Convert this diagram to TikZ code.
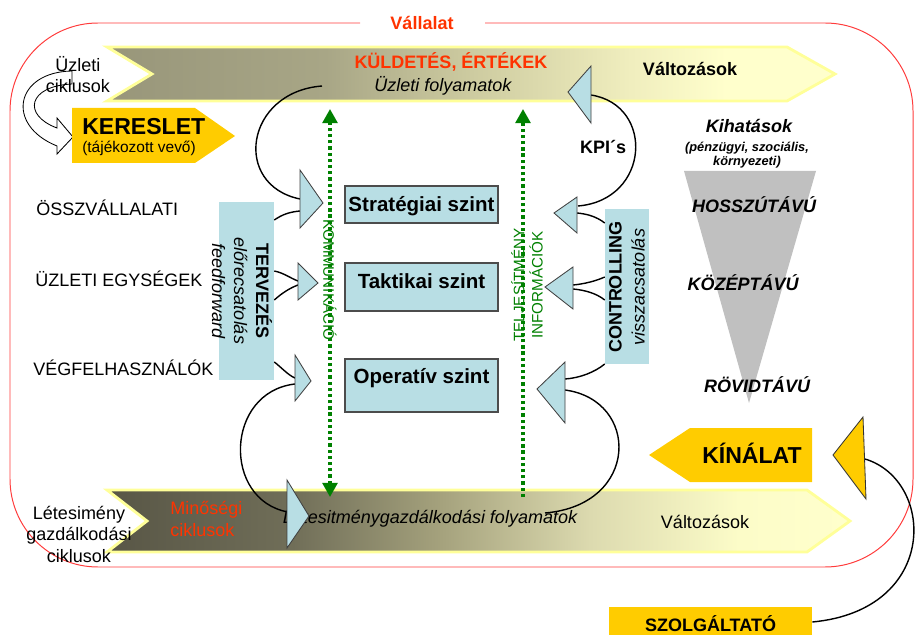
\documentclass[tikz,border=0pt]{standalone}
\usepackage{fontspec}
\setmainfont{Liberation Sans}
\usetikzlibrary{arrows.meta, calc}

\definecolor{lightblue}{RGB}{184,222,228}
\definecolor{gold}{RGB}{255,204,0}
\definecolor{vred}{RGB}{255,51,0}
\definecolor{framered}{RGB}{255,60,60}
\definecolor{darkgreen}{RGB}{0,128,0}
\definecolor{bandedge}{RGB}{255,255,153}
\definecolor{funnel}{RGB}{192,192,192}
\definecolor{topA}{RGB}{152,150,122}
\definecolor{topB}{RGB}{168,166,134}
\definecolor{topC}{RGB}{205,203,160}
\definecolor{topD}{RGB}{240,238,190}
\definecolor{topE}{RGB}{255,255,204}
\definecolor{lowA}{RGB}{88,86,70}
\definecolor{lowB}{RGB}{112,110,88}
\definecolor{lowC}{RGB}{165,162,125}
\definecolor{lowD}{RGB}{220,218,175}
\definecolor{lowE}{RGB}{252,252,200}

\pgfdeclarehorizontalshading{topband}{100bp}{color(0bp)=(topA); color(25bp)=(topA); color(40bp)=(topB); color(50bp)=(topC); color(61bp)=(topD); color(67.5bp)=(topE); color(100bp)=(topE)}
\pgfdeclarehorizontalshading{lowband}{100bp}{color(0bp)=(lowA); color(25bp)=(lowA); color(37.5bp)=(lowB); color(47.5bp)=(lowC); color(57.5bp)=(lowD); color(67.5bp)=(lowE); color(75bp)=(topE); color(100bp)=(topE)}

\newcommand{\normsize}{\fontsize{12.8}{15.6}\selectfont}

\begin{document}
\begin{tikzpicture}[x=0.025cm, y=-0.025cm, >={Triangle[width=10.5pt,length=10pt]},
    every node/.style={inner sep=0pt, font=\normsize},
    lvl/.style={draw=black!70, fill=lightblue, line width=0.8pt, minimum width=3.825cm},
    lvltxt/.style={font=\bfseries\fontsize{14.6}{17}\selectfont, anchor=base},
    bluebox/.style={fill=lightblue},
    tri/.style={draw=black!75, fill=lightblue, line width=0.6pt},
    loopline/.style={line width=1pt},
    info/.style={draw=darkgreen, line width=2.3pt, dash pattern=on 2.3pt off 2.1pt},
    infotxt/.style={text=darkgreen, font=\fontsize{10.8}{13}\selectfont},
    band/.style={draw=bandedge, line width=2pt},
    funneltxt/.style={font=\bfseries\itshape\normsize, anchor=base}]

    \useasboundingbox (0,0) rectangle (919,635);

    % Company frame
    \draw[framered, line width=0.7pt, rounded corners=2.2cm]
        (360,23) -- (10,23) -- (10,567) -- (913,567) -- (913,23) -- (485,23);
    \node[font=\bfseries\normsize, text=vred, anchor=base] (vallalat) at (422,30) {Vállalat};

    % Upper band: business processes
    \shadedraw[band, shading=topband]
        (107,47) -- (787,47) -- (835,74) -- (787,101) -- (107,101) -- (152,74) -- cycle;
    \node[font=\bfseries\normsize, text=vred, anchor=base] (kuldetes) at (451,69) {KÜLDETÉS, ÉRTÉKEK};
    \node[font=\itshape\normsize, anchor=base] (uzletfoly) at (443,92) {Üzleti folyamatok};
    \node[font=\bfseries\normsize, anchor=base] (valtozas) at (690,76) {Változások};

    % Lower band: facility processes
    \shadedraw[band, shading=lowband]
        (107,490) -- (807,490) -- (850,521) -- (807,552) -- (107,552) -- (147,521) -- cycle;
    \node[text=vred, anchor=base west, align=left] (minoseg) at (170,536) {Minőségi\\ciklusok};
    \node[font=\itshape\normsize, anchor=base] (letfoly) at (430,523) {Létesitménygazdálkodási folyamatok};
    \node[anchor=base] (valtozas2) at (705,528) {Változások};
    \node[anchor=base, align=center, font=\fontsize{12.8}{15}\selectfont] (letcikl) at (79,562)
        {Létesimény\\gazdálkodási\\ciklusok};

    % Demand side
    \node[anchor=base, align=center, font=\fontsize{12.8}{15.6}\selectfont] (uzcikl) at (78,93) {Üzleti\\ciklusok};
    \draw[line width=0.6pt] (72,71) .. controls (15,72) and (5,125) .. (57,146)
        -- (57,154) -- (73,137) -- (57,118) -- (57,128)
        .. controls (22,115) and (28,86) .. (72,84) -- cycle;
    \fill[gold] (72,108) -- (195,108) -- (235,136) -- (195,163) -- (72,163) -- cycle;
    \node[font=\bfseries\fontsize{16.4}{19}\selectfont, anchor=base west] (kereslet) at (82,135) {KERESLET};
    \node[font=\fontsize{11}{13}\selectfont, anchor=base west] (vevo) at (82,153) {(tájékozott vevő)};

    % Organisation levels
    \node[anchor=base west] (ossz) at (36,216) {ÖSSZVÁLLALATI};
    \node[anchor=base west] (uzegys) at (35,287) {ÜZLETI EGYSÉGEK};
    \node[anchor=base west] (vegf) at (33,375) {VÉGFELHASZNÁLÓK};

    % Planning and controlling
    \node[bluebox, minimum width=1.375cm, minimum height=4.45cm] (tervbox) at (246.5,291) {};
    \node[rotate=-90, align=center] (terv) at (242,291)
        {\textbf{TERVEZÉS}\\\textit{előrecsatolás}\\\textit{feedforward}};
    \node[bluebox, minimum width=1.1cm, minimum height=3.875cm] (ctrlbox) at (627,286.5) {};
    \node[rotate=90, align=center, font=\fontsize{12.8}{16.4}\selectfont] (ctrl) at (627,287)
        {\textbf{CONTROLLING}\\\textit{visszacsatolás}};

    % Level boxes
    \node[lvl, minimum height=0.925cm] (strat) at (421.5,204.5) {};
    \node[lvltxt] (strattxt) at (421.5,212) {Stratégiai szint};
    \node[lvl, minimum height=1.2cm] (takt) at (421.5,287) {};
    \node[lvltxt] (takttxt) at (421.5,289) {Taktikai szint};
    \node[lvl, minimum height=1.325cm] (oper) at (421.5,385.5) {};
    \node[lvltxt] (opertxt) at (421.5,384) {Operatív szint};

    % Communication and performance information
    \coordinate (komTop) at (330,109);
    \coordinate (komBot) at (330,497);
    \draw[info, <->] (komBot) -- (komTop);
    \node[infotxt, rotate=-90] (kom) at (330,280) {KOMMUNIKÁCIÓ};
    \coordinate (telTop) at (523,109);
    \coordinate (telBot) at (523,497);
    \draw[info, ->] (telBot) -- (telTop);
    \node[infotxt, rotate=90, align=center] (tel) at (527,285) {TELJESÍTMÉNY\\INFORMÁCIÓK};

    % Loops on the left
    \coordinate (busL) at (322,86);
    \coordinate (stratL) at (300,199);
    \coordinate (operL) at (295,384);
    \coordinate (facL) at (288,512);
    \draw[loopline] (busL) .. controls (245,92) and (232,185) .. (stratL);
    \draw[loopline] (operL) .. controls (225,392) and (222,500) .. (facL);
    \draw[loopline] (tervbox.east |- 0,220) .. controls (283,214) and (290,212) .. (300,211);
    \draw[loopline] (tervbox.east |- 0,271) .. controls (284,273) and (290,278) .. (298,281);
    \draw[loopline] (tervbox.east |- 0,300) .. controls (282,293) and (290,288) .. (298,285);
    \draw[loopline] (tervbox.east |- 0,362) .. controls (282,368) and (288,375) .. (295,378);

    % Loops on the right
    \coordinate (busR) at (591,95);
    \coordinate (stratR) at (578,206);
    \coordinate (operR) at (565,390);
    \coordinate (facR) at (545,513);
    \draw[loopline] (busR) .. controls (655,105) and (650,200) .. (stratR);
    \draw[loopline] (operR) .. controls (640,400) and (640,505) .. (facR);
    \draw[loopline] (ctrlbox.west |- 0,223) .. controls (597,217) and (588,214) .. (577,213);
    \draw[loopline] (ctrlbox.west |- 0,277) .. controls (596,281) and (584,284) .. (573,285);
    \draw[loopline] (ctrlbox.west |- 0,300) .. controls (596,293) and (584,290) .. (573,289);
    \draw[loopline] (ctrlbox.west |- 0,364) .. controls (595,372) and (580,378) .. (565,379);

    % Arrow heads pointing right
    \draw[tri] (300,170) -- (323,203) -- (300,228) -- cycle;
    \draw[tri] (298,263) -- (318,283) -- (298,300) -- cycle;
    \draw[tri] (295,355) -- (311,381) -- (295,401) -- cycle;
    \draw[tri] (287,480) -- (309,516) -- (287,548) -- cycle;

    % Arrow heads pointing left
    \draw[tri] (591,66) -- (568,92) -- (591,123) -- cycle;
    \draw[tri] (577,197) -- (554,213) -- (577,233) -- cycle;
    \draw[tri] (573,267) -- (545,287) -- (573,309) -- cycle;
    \draw[tri] (565,362) -- (537,389) -- (565,423) -- cycle;
    \node[font=\bfseries\normsize, anchor=base] (kpi) at (603,154) {KPI´s};

    % Impacts funnel
    \node[font=\bfseries\itshape\normsize, anchor=base] (kihat) at (749,133) {Kihatások};
    \node[font=\bfseries\itshape\fontsize{9.1}{10}\selectfont, anchor=base, align=center] (kihat2) at (747,166)
        {(pénzügyi, szociális,\\környezeti)};
    \fill[funnel] (684,171) -- (816,171) -- (749,403) -- cycle;
    \node[funneltxt] (hossz) at (754,213) {HOSSZÚTÁVÚ};
    \node[funneltxt] (kozep) at (743,291) {KÖZÉPTÁVÚ};
    \node[funneltxt] (rovid) at (757,392) {RÖVIDTÁVÚ};

    % Supply side
    \fill[gold] (812,428) -- (690,428) -- (649,455) -- (690,482) -- (812,482) -- cycle;
    \node[font=\bfseries\fontsize{16.4}{19}\selectfont, anchor=base] (kinalat) at (752,463) {KÍNÁLAT};
    \node[fill=gold, minimum width=5.075cm, minimum height=0.825cm, font=\bfseries\normsize]
        (szolg) at (710.5,623.5) {SZOLGÁLTATÓ};
    \coordinate (supTri) at (865,459);
    \draw[loopline] (supTri) .. controls (935,480) and (940,610) .. (szolg.east |- 0,622);
    \draw[fill=gold, draw=black!80, line width=0.6pt] (863,417) -- (833,455) -- (866,499) -- cycle;
\end{tikzpicture}
\end{document}
